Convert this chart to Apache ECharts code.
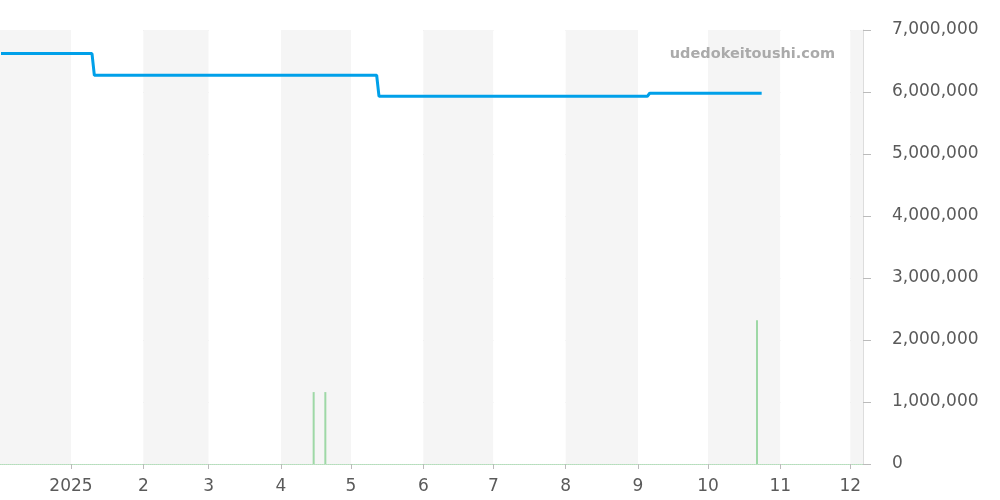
<!DOCTYPE html>
<html>
<head>
<meta charset="utf-8">
<script src="https://cdn.jsdelivr.net/npm/echarts@6/dist/echarts.min.js"></script>
<style>
  html, body { margin: 0; padding: 0; background: #fff; }
  #chart { width: 1000px; height: 500px; }
</style>
</head>
<body>
<div id="chart"></div>
<script>
// price line (change points)
const priceDates = ['2024-12-02', '2025-01-10', '2025-01-11', '2025-05-12', '2025-05-13', '2025-09-05', '2025-09-06', '2025-10-24'];
const priceValues = [6620000, 6620000, 6270000, 6270000, 5930000, 5930000, 5980000, 5980000];

// volume bars
const volDates = ['2025-04-15', '2025-04-20', '2025-10-22'];
const volValues = [1160000, 1160000, 2320000];

// axis range
const xMin = '2024-12-02';
const xMax = '2025-12-06';
const yTicks = [0, 1000000, 2000000, 3000000, 4000000, 5000000, 6000000, 7000000];

const font = 'DejaVu Sans';

const chart = echarts.init(document.getElementById('chart'));

const option = {
  animation: false,
  title: {
    text: 'udedokeitoushi.com',
    right: 160,
    top: 42,
    textStyle: { fontFamily: font, fontSize: 14.5, fontWeight: 'bold', color: '#aaa' },
  },
  grid: { left: 0, right: 137, top: 30, bottom: 36 },
  xAxis: {
    type: 'time',
    min: xMin,
    max: xMax,
    splitNumber: 12,
    minInterval: 28 * 24 * 3600 * 1000,
    maxInterval: 31 * 24 * 3600 * 1000,
    axisLine: { lineStyle: { color: '#b3dfba', type: 'dotted', width: 1 } },
    axisTick: { show: true, length: 5, lineStyle: { color: '#bbb' } },
    axisLabel: {
      fontFamily: font,
      fontSize: 17,
      color: '#5a5a5a',
      margin: 14,
      formatter: (value) => {
        const d = new Date(value);
        return d.getMonth() === 0 ? String(d.getFullYear()) : String(d.getMonth() + 1);
      },
    },
    splitLine: { show: false },
    splitArea: { show: true, areaStyle: { color: ['#f5f5f5', '#ffffff'] } },
  },
  yAxis: {
    type: 'value',
    position: 'right',
    min: yTicks[0],
    max: yTicks[yTicks.length - 1],
    interval: 1000000,
    axisLine: { show: true, lineStyle: { color: '#ddd' } },
    axisTick: { show: true, length: 8, lineStyle: { color: '#bbb' } },
    axisLabel: {
      fontFamily: font,
      fontSize: 17,
      color: '#5a5a5a',
      margin: 29,
      padding: [6, 0, 0, 0],
      formatter: (v) => v.toLocaleString('en-US'),
    },
    splitLine: { lineStyle: { color: '#e2e2e2' } },
  },
  series: [
    {
      name: 'volume',
      type: 'bar',
      data: volDates.map((d, i) => [d, volValues[i]]),
      barWidth: 2,
      itemStyle: { color: '#9ed8a6' },
      z: 2,
    },
    {
      name: 'price',
      type: 'line',
      data: priceDates.map((d, i) => [d, priceValues[i]]),
      showSymbol: false,
      lineStyle: { color: '#00a0e9', width: 3 },
      itemStyle: { color: '#00a0e9' },
      z: 3,
    },
  ],
};

chart.setOption(option);
</script>
</body>
</html>
